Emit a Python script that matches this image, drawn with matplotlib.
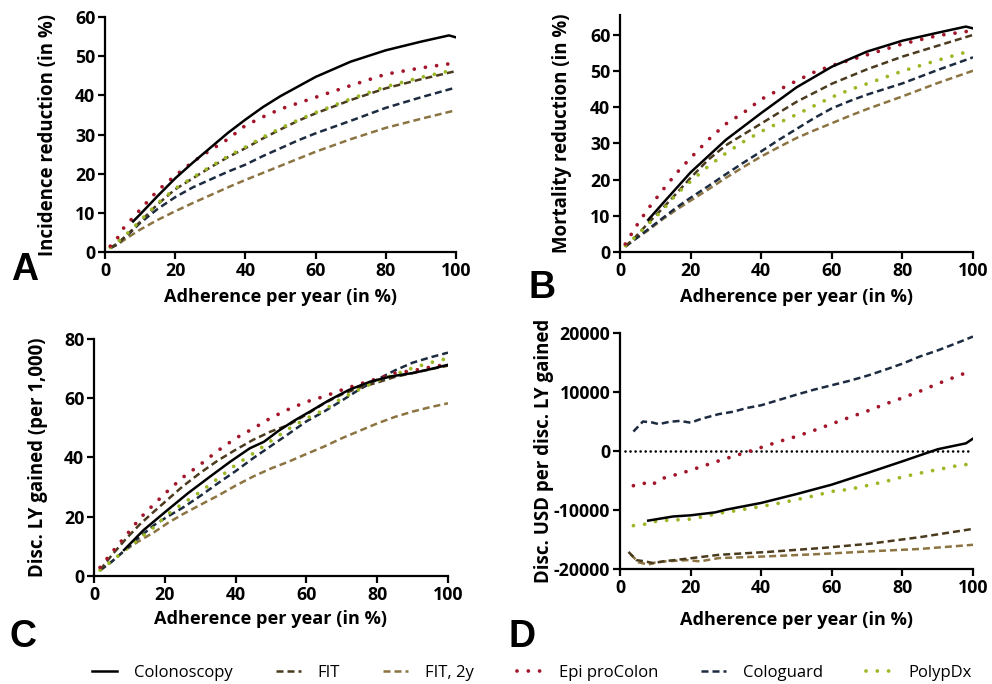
import matplotlib
matplotlib.use("Agg")
import matplotlib.pyplot as plt

plt.rcParams['font.family'] = ['Open Sans', 'DejaVu Sans']
plt.rcParams['axes.unicode_minus'] = False

labels = ["Colonoscopy", "FIT", "FIT, 2y", "Epi proColon", "Cologuard", "PolypDx"]
xlabel = "Adherence per year (in %)"

# ---- panel A: incidence reduction (%)
a_colo_x = [8, 10, 15, 20, 25, 30, 35, 40, 45, 50, 60, 70, 80, 90, 98, 100]
a_colo = [7.8, 9.6, 14.3, 18.8, 22.8, 26.6, 30.4, 33.8, 37, 39.8, 44.7, 48.6, 51.5, 53.7, 55.3, 54.8]
a_x = [1.5, 3.5, 5, 7, 10, 15, 20, 25, 30, 35, 40, 45, 50, 55, 60, 70, 80, 90, 100]
a_fit = [1, 2.2, 3.3, 5, 7.7, 12.2, 16, 18.8, 21.6, 24.2, 26.5, 29, 31.3, 33.5, 35.4, 38.8, 41.8, 44.1, 46.2]
a_fit2 = [1, 1.8, 2.8, 4, 5.7, 8.2, 10.4, 12.5, 14.5, 16.5, 18.4, 20.2, 22, 23.8, 25.6, 28.8, 31.7, 34, 36.2]
a_epi = [1.5, 3.5, 5.8, 7.8, 10.8, 15.7, 19.5, 23, 26, 28.8, 32.3, 34.5, 36.5, 38, 39.5, 42.5, 45.4, 47, 48.3]
a_colog = [1, 2, 3.3, 4.8, 7.4, 11, 14, 16.5, 18.5, 20.5, 22.3, 24.5, 26.5, 28.5, 30.3, 33.5, 36.8, 39.5, 42]
a_polyp = [1.2, 2.5, 3.6, 5.3, 8, 12.4, 16.2, 19, 21.8, 24.4, 26.8, 29.3, 31.6, 33.7, 35.6, 39.1, 42.2, 44.6, 46.6]

# ---- panel B: mortality reduction (%)
b_colo_x = [8, 13, 20, 30, 40, 50, 60, 70, 80, 90, 98, 100]
b_colo = [8.9, 14.4, 22, 31, 38.4, 45.5, 51.2, 55.4, 58.4, 60.6, 62.3, 61.8]
b_x = [1.5, 4.5, 8, 12, 16, 20, 25, 30, 35, 40, 45, 50, 55, 60, 65, 70, 80, 90, 100]
b_fit = [1.5, 4.3, 8, 12, 16.2, 20.5, 25.5, 29.5, 32.5, 35.5, 38.5, 41.5, 44, 46.5, 48.5, 50.5, 54, 57, 60]
b_fit2 = [1.5, 3.7, 6, 9, 11.7, 14.2, 17.3, 20.5, 23.5, 26.4, 29, 31.5, 33.6, 35.6, 37.6, 39.5, 43, 46.7, 50.1]
b_epi = [2.2, 7, 12, 17, 21.8, 26, 31, 35.4, 38.5, 42.2, 44.8, 47.3, 49.7, 51.5, 53, 54.5, 57.5, 59.8, 61.2]
b_colog = [1.5, 3.7, 6.3, 9.3, 12.3, 15, 18.2, 21.5, 24.7, 27.8, 31, 34, 37, 39.7, 41.7, 43.5, 46.6, 50.3, 53.8]
b_polyp = [1.8, 4.3, 7.7, 11.5, 16, 19.5, 23.7, 27.3, 30.5, 33.3, 35.7, 38, 40.4, 42.8, 44.8, 46.5, 50, 53, 55.8]

# ---- panel C: discounted LY gained (per 1,000)
c_colo_x = [8.5, 14, 20, 26.5, 32.5, 38.5, 44, 48, 52, 56.5, 61, 66.5, 72, 78, 84, 90, 95, 100]
c_colo = [8.8, 15.5, 21.5, 27.9, 33.3, 38.6, 43.1, 45.3, 48.9, 52.4, 55.5, 59.4, 62.8, 65.6, 67.4, 68.5, 69.8, 71.3]
c_x = [1.7, 5, 9, 13, 17, 21, 25, 30, 35, 40, 45, 50, 55, 60, 65, 70, 75, 80, 85, 90, 95, 100]
c_fit = [2, 7, 12.5, 17.5, 21.8, 26, 30.2, 34.8, 39, 42.6, 46, 48.8, 51, 54.5, 58.3, 61.3, 63.6, 65.3, 67.2, 68.5, 69.8, 71]
c_fit2 = [1.8, 4.9, 8.9, 12, 14.8, 18, 20.8, 24, 27.1, 30.5, 33.6, 36.3, 38.6, 41.2, 43.7, 46.5, 49, 51.5, 53.7, 55.5, 57, 58.3]
c_epi = [2.9, 7.9, 13.6, 19.5, 24.3, 28.9, 33.2, 37.6, 42.3, 46.5, 49.8, 53.4, 56.3, 58.8, 60.6, 62.8, 64.8, 66.6, 68.5, 69.3, 70.5, 71.5]
c_colog = [2, 4.8, 9, 13.3, 17.2, 20.2, 23, 27, 31.3, 35.4, 39.8, 43.9, 48, 52.2, 55.5, 59.2, 63, 66.3, 69.4, 72, 73.8, 75.4]
c_polyp = [2, 5, 9, 12.8, 16.5, 21, 24.4, 28.4, 32.9, 37.5, 41.4, 45.6, 49.7, 53.2, 56, 60, 63, 65.9, 68, 70.2, 72, 73.5]

# ---- panel D: discounted USD per discounted LY gained
d_colo_x = [8, 15, 20, 27, 30, 40, 50, 60, 70, 80, 90, 98, 100]
d_colo = [-11800, -11100, -10900, -10400, -9950, -8800, -7300, -5700, -3750, -1750, 300, 1300, 2100]
d_x = [3.8, 6.5, 9, 11, 14, 17, 20, 23, 28, 32, 36, 40, 45, 50, 55, 60, 65, 70, 75, 80, 85, 90, 95, 100]
d_epi = [-5880, -5420, -5830, -4860, -4280, -3850, -3250, -2660, -1660, -920, -180, 600, 1600, 2480,
         3500, 4600, 5700, 6760, 7930, 9000, 10140, 11400, 12570, 13700]
d_colog = [3300, 5000, 4850, 4550, 4950, 5100, 4800, 5450, 6250, 6650, 7300, 7750, 8650, 9550,
           10400, 11150, 11900, 12750, 13750, 14800, 16030, 17050, 18200, 19400]
d_polyp_x = [3.8, 6.5, 9, 11, 14, 17, 20, 23, 28, 32, 36, 40, 45, 50, 55, 60, 65, 70, 75, 80, 85, 90, 95, 98]
d_polyp = [-12650, -12500, -12000, -11900, -11700, -11650, -11550, -11200, -10550, -10200, -9800, -9400,
           -8850, -8250, -7600, -6850, -6500, -5850, -5200, -4400, -3750, -3150, -2550, -2300]
d_fit_x = [2.4, 4.7, 7, 9.4, 12.3, 19, 28, 42, 57, 71, 85, 100]
d_fit = [-17100, -18500, -18700, -19000, -18700, -18250, -17600, -17100, -16450, -15700, -14600, -13200]
d_fit2_x = [3, 5.2, 8, 10, 13, 19, 22.7, 28, 42, 57, 71, 85, 100]
d_fit2 = [-17500, -18850, -19270, -18900, -18700, -18500, -18700, -18150, -17850, -17450, -17000, -16600, -15900]

colors = ["black", "#4a3a1e", "#8c7442", "#a3162a", "#1c2b40", "#9bb824"]
dash = (0, (2.8, 1.6))
dot = (0, (0.01, 3.0))
styles = [
    dict(lw=1.8, ls="-"),
    dict(lw=1.8, ls=dash),
    dict(lw=1.8, ls=dash),
    dict(lw=2.7, ls=dot, dash_capstyle="round"),
    dict(lw=1.8, ls=dash),
    dict(lw=2.7, ls=dot, dash_capstyle="round"),
]

fig = plt.figure(figsize=(9.92, 6.84), dpi=100)
W, H = 992.0, 684.0


def make_axes(left, top, right, bottom):
    return fig.add_axes([left / W, 1 - bottom / H, (right - left) / W, (bottom - top) / H])


def style_axes(ax):
    for s in ["top", "right"]:
        ax.spines[s].set_visible(False)
    for s in ["left", "bottom"]:
        ax.spines[s].set_linewidth(1.6)
    ax.tick_params(direction="out", length=5, width=1.6, labelsize=12.8, pad=2)
    for lab in ax.get_xticklabels() + ax.get_yticklabels():
        lab.set_fontweight("bold")


def draw(ax, series):
    # series order follows labels: colo, fit, fit2, epi, cologuard, polyp
    order = [2, 4, 1, 5, 3, 0]
    for i in order:
        x, y = series[i]
        ax.plot(x, y, color=colors[i], label=labels[i], **styles[i])


panels = [
    (make_axes(105, 17, 456, 252),
     [(a_colo_x, a_colo), (a_x, a_fit), (a_x, a_fit2), (a_x, a_epi), (a_x, a_colog), (a_x, a_polyp)],
     (0, 60), [0, 10, 20, 30, 40, 50, 60], "Incidence reduction (in %)", -0.162, -0.191, "A", (25, 270)),
    (make_axes(620, 15, 973, 252),
     [(b_colo_x, b_colo), (b_x, b_fit), (b_x, b_fit2), (b_x, b_epi), (b_x, b_colog), (b_x, b_polyp)],
     (0, 65.5), [0, 10, 20, 30, 40, 50, 60], "Mortality reduction (in %)", -0.164, -0.19, "B", (542, 288)),
    (make_axes(94, 339, 448, 576),
     [(c_colo_x, c_colo), (c_x, c_fit), (c_x, c_fit2), (c_x, c_epi), (c_x, c_colog), (c_x, c_polyp)],
     (0, 80), [0, 20, 40, 60, 80], "Disc. LY gained (per 1,000)", -0.158, -0.181, "C", (23, 637)),
    (make_axes(620, 333, 973, 569),
     [(d_colo_x, d_colo), (d_fit_x, d_fit), (d_fit2_x, d_fit2), (d_x, d_epi), (d_x, d_colog), (d_polyp_x, d_polyp)],
     (-20000, 20000), [-20000, -10000, 0, 10000, 20000], "Disc. USD per disc. LY gained", -0.215, -0.216, "D", (522, 637)),
]

for ax, series, ylim, yticks, ylabel, ylx, xly, letter, lpos in panels:
    if letter == "D":
        ax.axhline(0, xmin=0.015, xmax=0.985, color="black", lw=1.9, ls=(0, (0.01, 1.9)),
                   dash_capstyle="round")
    draw(ax, series)
    ax.set_xlim(0, 100)
    ax.set_ylim(*ylim)
    ax.set_xticks([0, 20, 40, 60, 80, 100])
    ax.set_yticks(yticks)
    style_axes(ax)
    ax.set_xlabel(xlabel, fontsize=13.1, fontweight="bold")
    ax.xaxis.label.set_va("center")
    ax.xaxis.set_label_coords(0.5, xly)
    ax.set_ylabel(ylabel, fontsize=13.4, fontweight="bold")
    ax.yaxis.label.set_va("center")
    ax.yaxis.set_label_coords(ylx, 0.5)
    fig.text(lpos[0] / W, 1 - lpos[1] / H, letter, fontsize=27, fontweight="bold",
             family=["Liberation Sans", "DejaVu Sans"], ha="center", va="center")

# legend in the original label order
ax0 = panels[0][0]
handles, labs = ax0.get_legend_handles_labels()
hmap = dict(zip(labs, handles))
fig.legend([hmap[l] for l in labels], labels, loc="center", bbox_to_anchor=(0.536, 1 - 673 / H),
           ncol=6, frameon=False, fontsize=12, handlelength=1.5, handletextpad=1.0,
           columnspacing=2.6)

fig.savefig("out.png", dpi=100)
